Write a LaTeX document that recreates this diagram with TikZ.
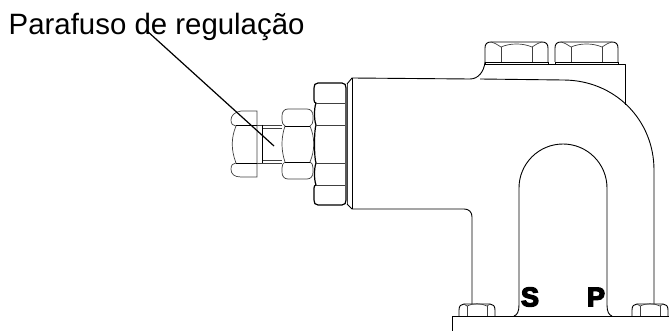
\documentclass[tikz,border=0pt]{standalone}
\usepackage{fontspec}
\setmainfont{Liberation Sans}
\newfontfamily\heavyfont[FakeBold=5]{Liberation Sans Bold}
\tikzset{
  part/.style={line width=0.9pt,black,line join=round},
  thin part/.style={line width=0.7pt,black!75},
  heavy/.style={line width=1.2pt,black},
  leader/.style={line width=1.2pt,black},
  mark label/.style={inner sep=0pt,font=\heavyfont\fontsize{27}{27}\selectfont}
}
\newcommand{\topbolt}[1]{%
  \begin{scope}[shift={(#1,0)}]
    \draw[part] (0,62) -- (0,48) .. controls (0,44) and (2,42) .. (6,42) -- (57,42) .. controls (61,42) and (63,44) .. (63,48) -- (0+63,62);
    \draw[thin part] (16,47) -- (16,62) (47,47) -- (47,62);
    \draw[thin part] (6,42) .. controls (10,43) and (13,45) .. (16,47) .. controls (25,43) and (38,43) .. (47,47) .. controls (50,45) and (53,43) .. (57,42);
    \draw[part] (0,62) -- (63,62);
    \draw[part] (0,62) -- (0,64);
    \draw[part] (63,62) -- (63,64);
  \end{scope}}
\newcommand{\footbolt}[1]{%
  \begin{scope}[shift={(#1,0)}]
    \draw[part] (0,316) -- (0,310) .. controls (0,306) and (2,304) .. (5,304) -- (31,304) .. controls (34,304) and (36,306) .. (36,310) -- (36,316);
    \draw[thin part] (8,316) -- (8,306) (28,316) -- (28,306);
    \draw[thin part] (5,304) .. controls (6,305) and (7,305) .. (8,306) .. controls (14,303) and (22,303) .. (28,306) .. controls (29,305) and (30,305) .. (31,304);
  \end{scope}}
\begin{document}
\begin{tikzpicture}[x=1pt,y=-1pt]
\useasboundingbox (0,0) rectangle (669,331);
% head of the regulating screw
\draw[thin part] (257,111) -- (241,111) .. controls (234,112) and (231,116) .. (231,120) .. controls (231,124) and (233,126) .. (236,126)
  .. controls (231,138) and (231,150) .. (236,163) .. controls (233,163) and (231,165) .. (231,169) .. controls (231,174) and (234,177) .. (241,177) -- (257,177) -- cycle;
\draw[part] (236,125) -- (257,125) (236,163) -- (257,163);
% shaft
\draw[thin part] (257,125) -- (282,125) (262,128) -- (282,128) (262,160) -- (282,160) (257,163) -- (282,163);
\draw[part] (262,125) -- (262,163);
% middle nut
\draw[thin part] (288,109) -- (307,109) .. controls (311,109) and (313,112) .. (313,116) -- (313,120) .. controls (313,123) and (312,125) .. (310,126)
  .. controls (315,138) and (315,150) .. (310,162) .. controls (312,163) and (313,165) .. (313,168) -- (313,172) .. controls (313,176) and (311,179) .. (307,179)
  -- (288,179) .. controls (284,179) and (282,176) .. (282,172) -- (282,168) .. controls (282,165) and (283,163) .. (285,162)
  .. controls (281,150) and (281,138) .. (285,126) .. controls (283,125) and (282,123) .. (282,120) -- (282,116) .. controls (282,112) and (284,109) .. (288,109) -- cycle;
\draw[part] (285,126) -- (310,126) (285,162) -- (310,162);
% large nut
\draw[heavy] (318,83) -- (342,83) .. controls (345,83) and (346,85) .. (346,88) -- (346,200) .. controls (346,203) and (345,205) .. (342,205) -- (318,205)
  .. controls (315,205) and (314,203) .. (314,200) -- (314,188) .. controls (314,186) and (315,185) .. (316,185)
  .. controls (314,180) and (314,168) .. (316,163) .. controls (314,158) and (314,130) .. (316,125) .. controls (314,120) and (314,108) .. (316,103) .. controls (315,103) and (314,102) .. (314,100) -- (314,88) .. controls (314,85) and (315,83) .. (318,83) -- cycle;
\draw[thin part] (316,103) -- (345,103) (316,125) -- (345,125) (316,163) -- (345,163) (316,185) -- (345,185);
\draw[thin part] (347.5,84) -- (347.5,204);
% body
\draw[part] (347,84) -- (352,78) -- (470,79) .. controls (478,79) and (484,72) .. (485,62);
\draw[part] (352,78) -- (352,209);
\draw[part] (347,204) -- (352,209) -- (464,209) .. controls (469,209) and (472,212) .. (472,217) -- (472,304);
\draw[part] (480,79) -- (563,80) .. controls (615,80) and (654,120) .. (654,170) -- (654,304);
% top plate and bolts
\topbolt{485}
\topbolt{555}
\draw[part] (485,64) -- (625,64) -- (625,105);
% arch
\draw[part] (514,316) .. controls (517,315) and (519,312) .. (519,305) -- (519,188) arc[start angle=180,end angle=360,radius=44] -- (607,305) .. controls (607,312) and (609,315) .. (612,316);
% base and foot bolts
\footbolt{459}
\footbolt{632}
\draw[part] (452,331) -- (452,316) -- (669,316);
% letters
\node[mark label] (markS) at (530,297) {S};
\node[mark label] (markP) at (596,297) {P};
% label and leader
\node[anchor=base west,inner sep=0pt,font=\fontsize{29.4}{29.4}\selectfont] (title) at (8.5,35) {Parafuso de regulação};
\coordinate (leaderstart) at (146,30);
\coordinate (leaderend) at (274,146);
\draw[leader] (leaderstart) -- (leaderend);
\end{tikzpicture}
\end{document}
